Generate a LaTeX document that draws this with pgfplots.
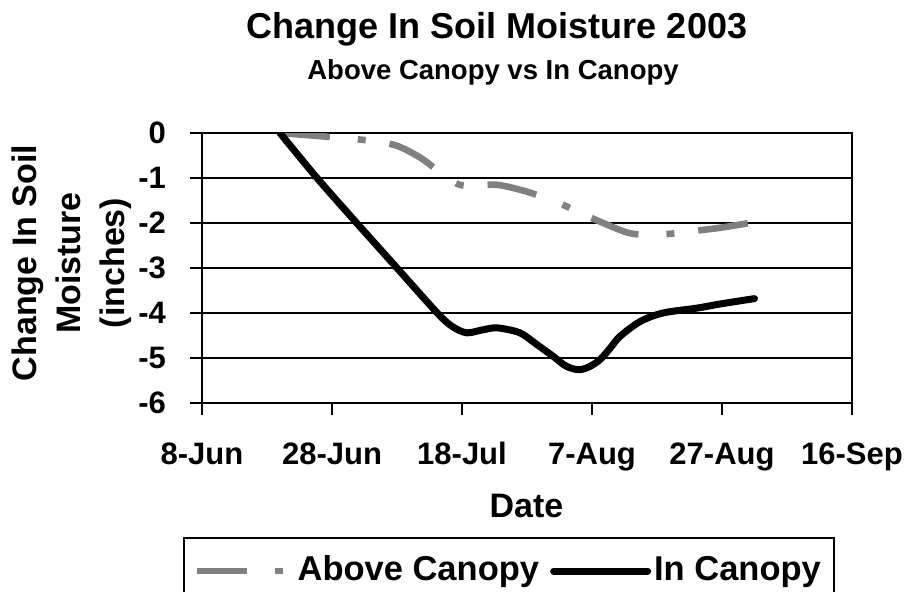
\documentclass[border=0pt]{standalone}
\usepackage{fontspec}
\setmainfont{Liberation Sans}
\usepackage{pgfplots}
\pgfplotsset{compat=1.18}
\definecolor{dashgray}{RGB}{128,128,128}
\begin{document}
\begin{tikzpicture}
\begin{axis}[
  at={(0pt,0pt)}, anchor=south west,
  scale only axis, width=325pt, height=135pt,
  xmin=0, xmax=100, ymin=-6, ymax=0,
  xtick={0,20,40,60,80,100},
  xticklabels={8-Jun,28-Jun,18-Jul,7-Aug,27-Aug,16-Sep},
  ytick={-6,-5,-4,-3,-2,-1,0},
  yticklabels={-6,-5,-4,-3,-2,-1,0},
  xtick pos=left, ytick pos=left,
  tick align=outside, major tick length=6pt,
  tick style={black, line width=1.3pt},
  axis line style={black, line width=1.3pt},
  ymajorgrids, grid style={black, line width=1pt},
  ticklabel style={font=\fontsize{15.5}{18}\selectfont\bfseries},
  xticklabel style={anchor=base, yshift=-24.5pt},
  yticklabel style={anchor=east, xshift=-8.5pt},
  legend columns=2,
  legend style={at={(-9.5pt,-67pt)}, anchor=north west,
    draw=black, line width=1pt, inner xsep=5pt, inner ysep=6pt,
    font=\fontsize{17.25}{20}\selectfont\bfseries,
    /tikz/every even column/.append style={column sep=4pt},
    nodes={inner xsep=1.5pt, text height=13pt, text depth=4pt}},
  legend image code/.code={\draw[#1] (0pt,0pt) -- (47pt,0pt);},
]
\addplot[dashgray, line width=3.3pt, dash pattern=on 25pt off 14pt on 4pt off 12pt, smooth] coordinates {
(12,0) (19.9,-0.09) (25.8,-0.17) (29.9,-0.28) (33.5,-0.54) (36.6,-0.87)
(39.1,-1.12) (41.2,-1.18) (45.3,-1.15) (49.9,-1.3) (54.8,-1.55) (58.1,-1.77)
(62.2,-2.03) (65.6,-2.22) (68.4,-2.26) (72,-2.24) (76.1,-2.17) (80,-2.1) (85,-1.98)
};
\addlegendentry{Above Canopy}
\addplot[black, line width=3.5pt, line cap=round, line join=round, smooth] coordinates {
(12,0) (17.7,-1) (23.8,-2) (30,-3) (36.2,-4) (38.5,-4.3) (40.7,-4.44) (43,-4.38)
(45.4,-4.33) (48.9,-4.44) (51.5,-4.7) (54,-4.96) (56,-5.18) (57.9,-5.26) (59.5,-5.2)
(61.2,-5.04) (62.8,-4.78) (64.3,-4.52) (67.4,-4.19) (70.9,-4.0) (76.2,-3.89)
(79.7,-3.8) (85,-3.68)
};
\addlegendentry{In Canopy}
\end{axis}
\node[anchor=base, font=\fontsize{18}{22}\selectfont\bfseries] at (147.5pt,182pt) {Change In Soil Moisture 2003};
\node[anchor=base, font=\fontsize{13.75}{16}\selectfont\bfseries] at (145.5pt,161.5pt) {Above Canopy vs In Canopy};
\node[anchor=base, font=\fontsize{17}{20}\selectfont\bfseries] at (162.25pt,-57.5pt) {Date};
\node[rotate=90, align=center, font=\fontsize{17}{22}\selectfont\bfseries] at (-65pt,70pt) {Change In Soil\\Moisture\\(inches)};
\pgfresetboundingbox
\useasboundingbox (-101pt,-94.5pt) rectangle (353pt,201.5pt);
\end{tikzpicture}
\end{document}
